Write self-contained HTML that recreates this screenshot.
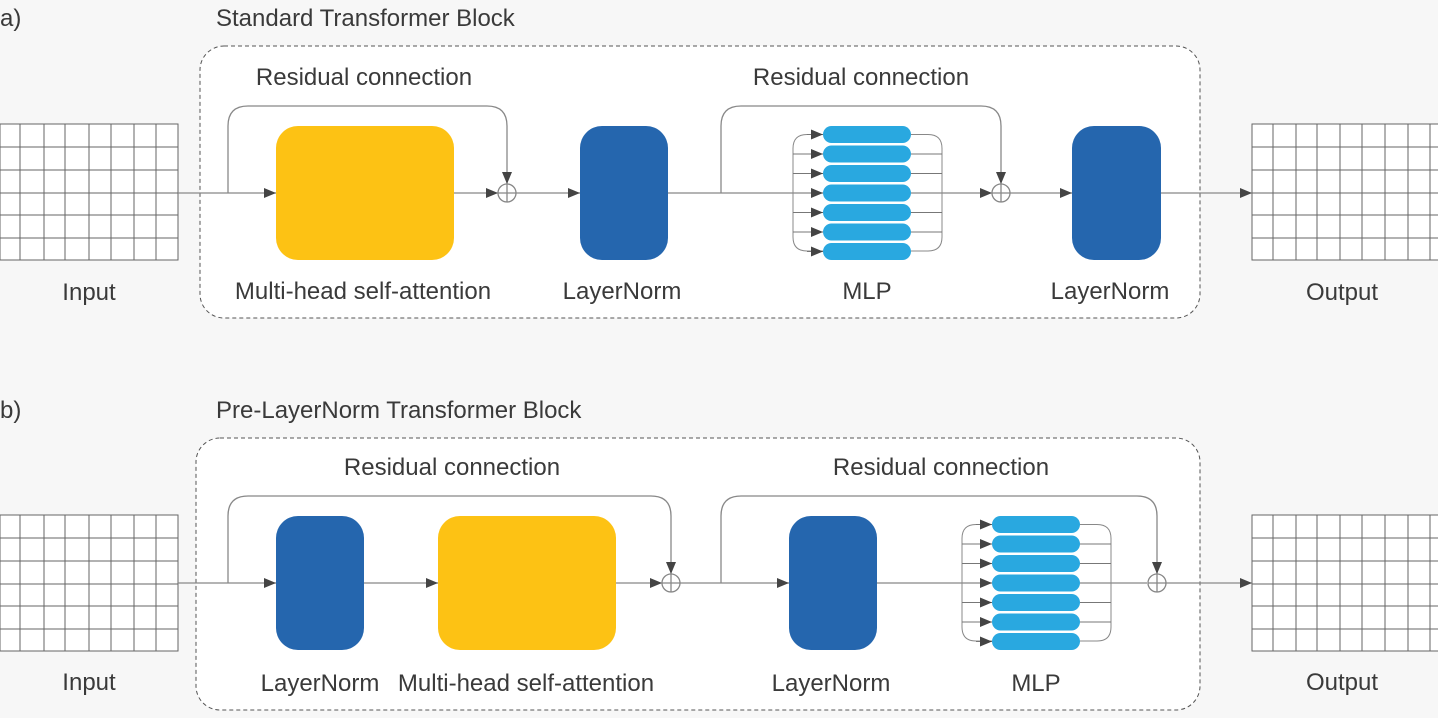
<!DOCTYPE html>
<html><head><meta charset="utf-8"><style>
html,body{margin:0;padding:0;background:#f7f7f7;}
svg{display:block;}
text{font-family:"Liberation Sans",sans-serif;fill:#3a3a3a;font-size:24px;}
</style></head><body>
<svg width="1438" height="718" viewBox="0 0 1438 718" xmlns="http://www.w3.org/2000/svg">
<defs>
<marker id="ar" markerWidth="12" markerHeight="10" refX="12" refY="5" orient="auto" markerUnits="userSpaceOnUse">
<path d="M0,0 L12,5 L0,10 z" fill="#444"/></marker>
<g id="grid" stroke="#666" stroke-width="1" fill="#fff">
<rect x="0" y="0" width="178" height="136"/>
<path d="M20,0v136M44,0v136M65,0v136M89,0v136M111,0v136M134,0v136M156,0v136M0,23h178M0,46h178M0,69h178M0,91h178M0,114h178" fill="none"/>
</g>
<g id="grid2" stroke="#666" stroke-width="1" fill="#fff">
<rect x="0" y="0" width="200" height="136"/>
<path d="M21,0v136M44,0v136M65,0v136M88,0v136M110,0v136M133,0v136M156,0v136M178,0v136M0,23h200M0,46h200M0,69h200M0,91h200M0,114h200" fill="none"/>
</g>
<g id="mlp">
<path d="M30,8.5 H14 q-14,0 -14,14 V111 q0,14 14,14 H30" fill="none" stroke="#888"/>
<path d="M118,8.5 H135 q14,0 14,14 V111 q0,14 -14,14 H118" fill="none" stroke="#888"/>
<g stroke="#777" stroke-width="1">
<line x1="0" y1="28" x2="30" y2="28" marker-end="url(#ar)"/>
<line x1="0" y1="47.5" x2="30" y2="47.5" marker-end="url(#ar)"/>
<line x1="0" y1="86.5" x2="30" y2="86.5" marker-end="url(#ar)"/>
<line x1="0" y1="106" x2="30" y2="106" marker-end="url(#ar)"/>
<line x1="14" y1="8.5" x2="30" y2="8.5" marker-end="url(#ar)"/>
<line x1="14" y1="125.5" x2="30" y2="125.5" marker-end="url(#ar)"/>
<path d="M118,28h31M118,47.5h31M118,86.5h31M118,106h31"/>
</g>
<g fill="#29a8e0">
<rect x="30" y="0" width="88" height="17" rx="8.5"/>
<rect x="30" y="19.5" width="88" height="17" rx="8.5"/>
<rect x="30" y="39" width="88" height="17" rx="8.5"/>
<rect x="30" y="58.5" width="88" height="17" rx="8.5"/>
<rect x="30" y="78" width="88" height="17" rx="8.5"/>
<rect x="30" y="97.5" width="88" height="17" rx="8.5"/>
<rect x="30" y="117" width="88" height="17" rx="8.5"/>
</g>
</g>
</defs>

<!-- Panel a -->
<text x="0" y="26">a)</text>
<text x="216" y="26">Standard Transformer Block</text>
<rect x="200" y="46" width="1000" height="272" rx="24" fill="#fff" stroke="#555" stroke-dasharray="4,3"/>
<use href="#grid" x="0" y="124"/>
<use href="#grid2" x="1252" y="124"/>
<g stroke="#888" stroke-width="1.3" fill="none">
<line x1="178" y1="193" x2="276" y2="193" marker-end="url(#ar)"/>
<line x1="454" y1="193" x2="498" y2="193" marker-end="url(#ar)"/>
<line x1="516" y1="193" x2="580" y2="193" marker-end="url(#ar)"/>
<line x1="668" y1="193" x2="823" y2="193" marker-end="url(#ar)"/>
<line x1="911" y1="193" x2="992" y2="193" marker-end="url(#ar)"/>
<line x1="1010" y1="193" x2="1072" y2="193" marker-end="url(#ar)"/>
<line x1="1161" y1="193" x2="1252" y2="193" marker-end="url(#ar)"/>
<path d="M228,193 V126 q0,-20 20,-20 H487 q20,0 20,20 V184" marker-end="url(#ar)"/>
<path d="M721,193 V126 q0,-20 20,-20 H981 q20,0 20,20 V184" marker-end="url(#ar)"/>
<circle cx="507" cy="193" r="9"/><path d="M507,184v18M498,193h18"/>
<circle cx="1001" cy="193" r="9"/><path d="M1001,184v18M992,193h18"/>
</g>
<rect x="276" y="126" width="178" height="134" rx="22" fill="#fdc214"/>
<rect x="580" y="126" width="88" height="134" rx="22" fill="#2566ae"/>
<rect x="1072" y="126" width="89" height="134" rx="22" fill="#2566ae"/>
<use href="#mlp" x="793" y="126"/>
<text x="364" y="85" text-anchor="middle">Residual connection</text>
<text x="861" y="85" text-anchor="middle">Residual connection</text>
<text x="89" y="300" text-anchor="middle">Input</text>
<text x="363" y="299" text-anchor="middle">Multi-head self-attention</text>
<text x="622" y="299" text-anchor="middle">LayerNorm</text>
<text x="867" y="299" text-anchor="middle">MLP</text>
<text x="1110" y="299" text-anchor="middle">LayerNorm</text>
<text x="1342" y="300" text-anchor="middle">Output</text>

<!-- Panel b -->
<text x="0" y="418">b)</text>
<text x="216" y="418">Pre-LayerNorm Transformer Block</text>
<rect x="196" y="438" width="1004" height="272" rx="24" fill="#fff" stroke="#555" stroke-dasharray="4,3"/>
<use href="#grid" x="0" y="515"/>
<use href="#grid2" x="1252" y="515"/>
<g stroke="#888" stroke-width="1.3" fill="none">
<line x1="178" y1="583" x2="276" y2="583" marker-end="url(#ar)"/>
<line x1="364" y1="583" x2="438" y2="583" marker-end="url(#ar)"/>
<line x1="616" y1="583" x2="662" y2="583" marker-end="url(#ar)"/>
<line x1="680" y1="583" x2="789" y2="583" marker-end="url(#ar)"/>
<line x1="876" y1="583" x2="992" y2="583" marker-end="url(#ar)"/>
<line x1="1080" y1="583" x2="1147" y2="583"/>
<line x1="1165" y1="583" x2="1252" y2="583" marker-end="url(#ar)"/>
<path d="M228,583 V516 q0,-20 20,-20 H651 q20,0 20,20 V574" marker-end="url(#ar)"/>
<path d="M721,583 V516 q0,-20 20,-20 H1137 q20,0 20,20 V574" marker-end="url(#ar)"/>
<circle cx="671" cy="583" r="9"/><path d="M671,574v18M662,583h18"/>
<circle cx="1157" cy="583" r="9"/><path d="M1157,574v18M1148,583h18"/>
</g>
<rect x="276" y="516" width="88" height="134" rx="22" fill="#2566ae"/>
<rect x="438" y="516" width="178" height="134" rx="22" fill="#fdc214"/>
<rect x="789" y="516" width="88" height="134" rx="22" fill="#2566ae"/>
<use href="#mlp" x="962" y="516"/>
<text x="452" y="475" text-anchor="middle">Residual connection</text>
<text x="941" y="475" text-anchor="middle">Residual connection</text>
<text x="89" y="690" text-anchor="middle">Input</text>
<text x="320" y="691" text-anchor="middle">LayerNorm</text>
<text x="526" y="691" text-anchor="middle">Multi-head self-attention</text>
<text x="831" y="691" text-anchor="middle">LayerNorm</text>
<text x="1036" y="691" text-anchor="middle">MLP</text>
<text x="1342" y="690" text-anchor="middle">Output</text>
</svg>
</body></html>
